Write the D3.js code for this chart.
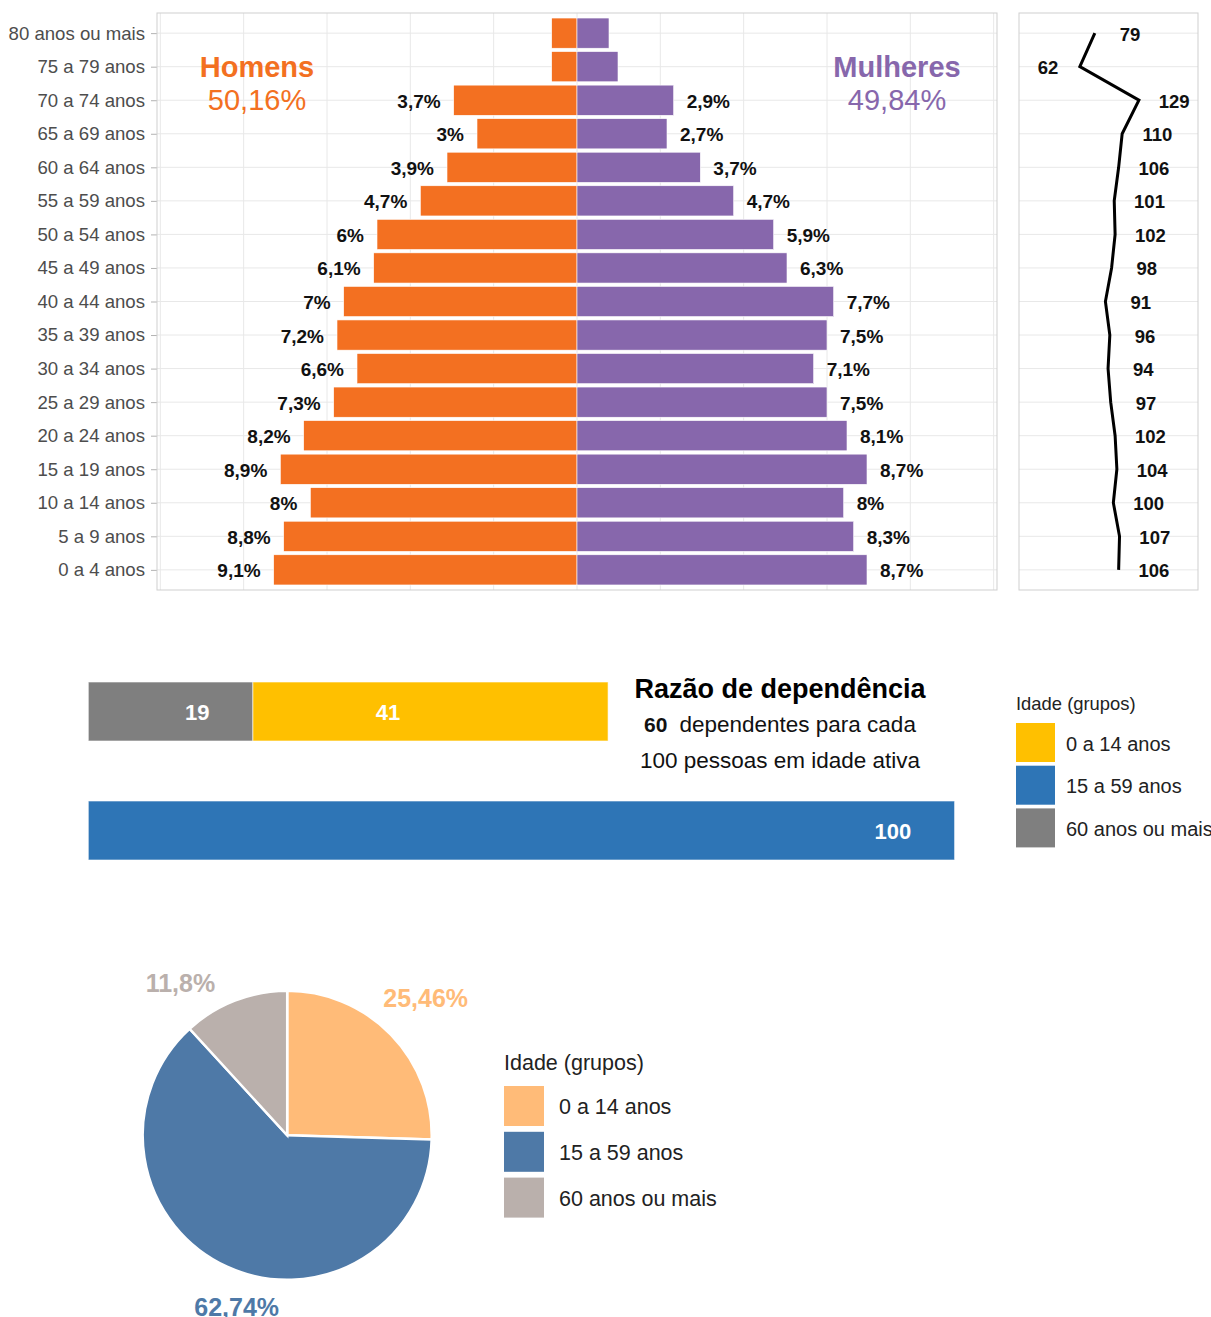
<!DOCTYPE html>
<html lang="pt-BR">
<head>
<meta charset="UTF-8">
<title>Pirâmide etária</title>
<script src="https://d3js.org/d3.v7.min.js"></script>
<style>
    body { margin: 0; background: #fff; }
    svg { display: block; font-family: "Liberation Sans", Arial, sans-serif; }
    .grid line { stroke: #e8e8e8; stroke-width: 1; }
    .border { fill: none; stroke: #cfcfcf; stroke-width: 1; }
    .axis path { display: none; }
    .axis line { stroke: #b3b3b3; }
    .axis text { font-size: 18.6px; fill: #4d4d4d; }
</style>
</head>
<body>
<svg id="chart" width="1211" height="1317"></svg>
<script>
    // ---- data ----
    const ageGroups = ["0 a 4 anos", "5 a 9 anos", "10 a 14 anos", "15 a 19 anos", "20 a 24 anos",
        "25 a 29 anos", "30 a 34 anos", "35 a 39 anos", "40 a 44 anos", "45 a 49 anos", "50 a 54 anos",
        "55 a 59 anos", "60 a 64 anos", "65 a 69 anos", "70 a 74 anos", "75 a 79 anos", "80 anos ou mais"];
    const menPct = [9.1, 8.8, 8.0, 8.9, 8.2, 7.3, 6.6, 7.2, 7.0, 6.1, 6.0, 4.7, 3.9, 3.0, 3.7, 0.76, 0.76];
    const womenPct = [8.7, 8.3, 8.0, 8.7, 8.1, 7.5, 7.1, 7.5, 7.7, 6.3, 5.9, 4.7, 3.7, 2.7, 2.9, 1.23, 0.96];
    const sexRatio = [106, 107, 100, 104, 102, 97, 94, 96, 91, 98, 102, 101, 106, 110, 129, 62, 79];
    const sexNames = ["Homens", "Mulheres"];
    const sexTotals = [50.16, 49.84];

    const ageBands = ["0 a 14 anos", "15 a 59 anos", "60 anos ou mais"];
    const depValues = [41, 100, 19];
    const depTotal = 60;
    const piePct = [25.46, 62.74, 11.8];

    // ---- colours ----
    const sexColors = ["#F37021", "#8767AC"];
    const depColors = ["#FFC000", "#2E75B6", "#7F7F7F"];
    const pieColors = ["#FFBB78", "#4E79A7", "#BAB0AC"];

    const fmt = v => String(v).replace(".", ",");
    const svg = d3.select("#chart");

    // =================== population pyramid ===================
    const pyr = {left: 157, right: 997, top: 13, bottom: 590};
    const x = d3.scaleLinear().domain([-12.6, 12.6]).range([pyr.left, pyr.right]);
    const y = d3.scalePoint().domain(ageGroups.slice().reverse())
        .range([pyr.top, pyr.bottom]).padding(0.6);
    const barH = y.step() * 0.9;

    const rows = ageGroups.map((a, i) => ({age: a, men: menPct[i], women: womenPct[i], ratio: sexRatio[i]}));

    const g1 = svg.append("g");
    const grid1 = g1.append("g").attr("class", "grid");
    grid1.selectAll(".v").data(d3.range(-12.5, 12.51, 2.5)).enter().append("line")
        .attr("x1", d => x(d)).attr("x2", d => x(d))
        .attr("y1", pyr.top).attr("y2", pyr.bottom);
    grid1.selectAll(".h").data(ageGroups).enter().append("line")
        .attr("x1", pyr.left).attr("x2", pyr.right)
        .attr("y1", d => y(d)).attr("y2", d => y(d));

    g1.append("g").attr("class", "axis")
        .attr("transform", `translate(${pyr.left},0)`)
        .call(d3.axisLeft(y).tickSize(6).tickPadding(6));

    // men bars
    g1.selectAll(".men").data(rows).enter().append("rect")
        .attr("x", d => x(-d.men)).attr("width", d => x(0) - x(-d.men))
        .attr("y", d => y(d.age) - barH / 2).attr("height", barH)
        .attr("fill", sexColors[0]).attr("stroke", "#fff").attr("stroke-width", 0.6);
    // women bars
    g1.selectAll(".women").data(rows).enter().append("rect")
        .attr("x", x(0)).attr("width", d => x(d.women) - x(0))
        .attr("y", d => y(d.age) - barH / 2).attr("height", barH)
        .attr("fill", sexColors[1]).attr("stroke", "#fff").attr("stroke-width", 0.6);

    const labelled = rows.filter(d => d.men > 2);
    g1.selectAll(".menLab").data(labelled).enter().append("text")
        .attr("x", d => x(-d.men) - 13).attr("y", d => y(d.age) + 1)
        .attr("text-anchor", "end").attr("dominant-baseline", "central")
        .style("font-size", "19px").style("font-weight", "bold").attr("fill", "#111")
        .text(d => fmt(d.men) + "%");
    g1.selectAll(".womenLab").data(labelled).enter().append("text")
        .attr("x", d => x(d.women) + 13).attr("y", d => y(d.age) + 1)
        .attr("text-anchor", "start").attr("dominant-baseline", "central")
        .style("font-size", "19px").style("font-weight", "bold").attr("fill", "#111")
        .text(d => fmt(d.women) + "%");

    // sex totals
    [0, 1].forEach(i => {
        const cx = x(i === 0 ? -9.6 : 9.6);
        g1.append("text").attr("x", cx).attr("y", y("75 a 79 anos"))
            .attr("text-anchor", "middle").attr("dominant-baseline", "central")
            .style("font-size", "29px").style("font-weight", "bold").attr("fill", sexColors[i])
            .text(sexNames[i]);
        g1.append("text").attr("x", cx).attr("y", y("70 a 74 anos"))
            .attr("text-anchor", "middle").attr("dominant-baseline", "central")
            .style("font-size", "29px").attr("fill", sexColors[i])
            .text(fmt(sexTotals[i]) + "%");
    });

    g1.append("rect").attr("class", "border")
        .attr("x", pyr.left).attr("y", pyr.top)
        .attr("width", pyr.right - pyr.left).attr("height", pyr.bottom - pyr.top);

    // =================== sex ratio panel ===================
    const rp = {left: 1019, right: 1198};
    const rx = d3.scaleLinear().domain([-7, 196]).range([rp.left, rp.right]);
    const g2 = svg.append("g");
    g2.append("g").attr("class", "grid").selectAll("line").data(ageGroups).enter().append("line")
        .attr("x1", rp.left).attr("x2", rp.right)
        .attr("y1", d => y(d)).attr("y2", d => y(d));
    g2.append("path").datum(rows)
        .attr("d", d3.line().x(d => rx(d.ratio)).y(d => y(d.age)))
        .attr("fill", "none").attr("stroke", "#000").attr("stroke-width", 3);
    g2.selectAll(".rlab").data(rows).enter().append("text")
        .attr("x", d => rx(d.ratio + (d.ratio < 70 ? -36 : 40))).attr("y", d => y(d.age) + 1)
        .attr("text-anchor", "middle").attr("dominant-baseline", "central")
        .style("font-size", "18.5px").style("font-weight", "bold").attr("fill", "#111")
        .text(d => d.ratio);
    g2.append("rect").attr("class", "border")
        .attr("x", rp.left).attr("y", pyr.top)
        .attr("width", rp.right - rp.left).attr("height", pyr.bottom - pyr.top);

    // =================== dependency ratio ===================
    const dx = d3.scaleLinear().domain([0, 100]).range([88.3, 954.6]);
    const depBars = [
        {key: 2, start: 0, value: depValues[2], top: 682},
        {key: 0, start: depValues[2], value: depValues[0], top: 682},
        {key: 1, start: 0, value: depValues[1], top: 801}
    ];
    const depH = 59;
    const g3 = svg.append("g");
    g3.selectAll("rect").data(depBars).enter().append("rect")
        .attr("x", d => dx(d.start)).attr("width", d => dx(d.start + d.value) - dx(d.start))
        .attr("y", d => d.top).attr("height", depH)
        .attr("fill", d => depColors[d.key]).attr("stroke", "#fff").attr("stroke-opacity", 0.6);
    g3.selectAll(".dlab").data(depBars).enter().append("text")
        .attr("x", d => dx(d.value - 5)).attr("y", d => d.top + depH / 2 + 1)
        .attr("text-anchor", "end").attr("dominant-baseline", "central")
        .style("font-size", "22px").style("font-weight", "bold").attr("fill", "#fff")
        .text(d => d.value);

    const tx = 780;
    g3.append("text").attr("x", tx).attr("y", 698).attr("text-anchor", "middle")
        .style("font-size", "27px").style("font-weight", "bold").attr("fill", "#000")
        .text("Razão de dependência");
    const l2 = g3.append("text").attr("x", tx).attr("y", 732).attr("text-anchor", "middle")
        .style("font-size", "22.5px").attr("fill", "#111");
    l2.append("tspan").style("font-weight", "bold").style("font-size", "21px").text(depTotal);
    l2.append("tspan").attr("dx", 12).text("dependentes para cada");
    g3.append("text").attr("x", tx).attr("y", 768).attr("text-anchor", "middle")
        .style("font-size", "22.5px").attr("fill", "#111")
        .text("100 pessoas em idade ativa");

    function legend(g, x0, titleY, keyTop, keySize, step, titleSize, labSize, labGap, colors) {
        g.append("text").attr("x", x0).attr("y", titleY)
            .style("font-size", titleSize + "px").attr("fill", "#222").text("Idade (grupos)");
        const it = g.selectAll(".key").data(ageBands).enter().append("g")
            .attr("transform", (d, i) => `translate(${x0},${keyTop + i * step})`);
        it.append("rect").attr("width", keySize).attr("height", keySize)
            .attr("fill", (d, i) => colors[i]);
        it.append("text").attr("x", keySize + labGap).attr("y", keySize / 2 + 1)
            .attr("dominant-baseline", "central")
            .style("font-size", labSize + "px").attr("fill", "#222").text(d => d);
    }
    legend(svg.append("g"), 1016, 710, 723, 39, 42.7, 18.4, 20, 11, depColors);

    // =================== pie ===================
    const pc = {cx: 287.2, cy: 1135.3, r: 144.5};
    const pieData = d3.pie().sort(null).value(d => d)(piePct);
    const arc = d3.arc().innerRadius(0).outerRadius(pc.r);
    const g4 = svg.append("g").attr("transform", `translate(${pc.cx},${pc.cy})`);
    g4.selectAll("path").data(pieData).enter().append("path")
        .attr("d", arc).attr("fill", (d, i) => pieColors[i])
        .attr("stroke", "#fff").attr("stroke-width", 2.5);

    const pieLabelPos = [{da: -0.6, r: 195}, {da: -8.2, r: 179}, {da: -13.8, r: 186}];
    g4.selectAll(".plab").data(pieData).enter().append("text")
        .attr("transform", (d, i) => {
            const a = (d.startAngle + d.endAngle) / 2 + pieLabelPos[i].da * Math.PI / 180;
            const r = pieLabelPos[i].r;
            return `translate(${r * Math.sin(a)},${-r * Math.cos(a)})`;
        })
        .attr("text-anchor", "middle").attr("dominant-baseline", "central")
        .style("font-size", "25px").style("font-weight", "bold")
        .attr("fill", (d, i) => pieColors[i])
        .text(d => fmt(d.data) + "%");

    legend(svg.append("g"), 504, 1070, 1086, 40, 45.8, 21.5, 21.5, 15, pieColors);
</script>
</body>
</html>
